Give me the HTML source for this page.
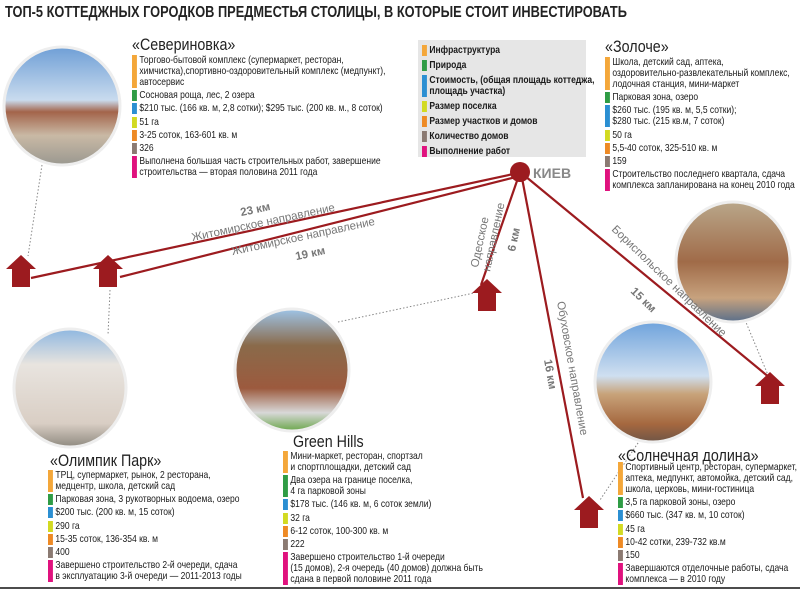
<!DOCTYPE html>
<html><head><meta charset="utf-8"><style>
body{margin:0;width:800px;height:591px;background:#fff;position:relative;overflow:hidden;font-family:"Liberation Sans",sans-serif;}
.t{position:absolute;font-size:16px;font-weight:bold;color:#222;left:5px;top:4px;white-space:nowrap;transform:scaleX(.8);transform-origin:left top;}
.h{position:absolute;font-size:17px;color:#222;white-space:nowrap;transform:scaleX(.84);transform-origin:left top;}
.b{position:absolute;font-size:10.4px;line-height:11px;color:#1a1a1a;white-space:nowrap;transform:scaleX(.82);transform-origin:left top;}
.b div{border-left:6px solid;padding-left:3px;margin-bottom:2.2px;}
.o{border-color:#f4a73a!important}.g{border-color:#2f9c45!important}.u{border-color:#2b8fd2!important}.y{border-color:#d2da22!important}.r{border-color:#ee8a25!important}.n{border-color:#8b7a72!important}.m{border-color:#e0127e!important}
.lg{position:absolute;left:418px;top:40px;width:168px;height:117px;background:#e6e6e6;}
.lb{font-weight:bold}
</style></head><body>
<svg width="800" height="591" style="position:absolute;left:0;top:0">
<defs>
<linearGradient id="p1" x1="0" y1="0" x2="0" y2="1"><stop offset="0" stop-color="#6f9fd6"/><stop offset=".45" stop-color="#c9dbee"/><stop offset=".55" stop-color="#a3644a"/><stop offset=".75" stop-color="#c9b9a5"/><stop offset="1" stop-color="#9a9890"/></linearGradient>
<linearGradient id="p2" x1="0" y1="0" x2="0" y2="1"><stop offset="0" stop-color="#8fb7e0"/><stop offset=".3" stop-color="#e8e4df"/><stop offset=".8" stop-color="#d9cec4"/><stop offset="1" stop-color="#8f8a80"/></linearGradient>
<linearGradient id="p3" x1="0" y1="0" x2="0" y2="1"><stop offset="0" stop-color="#9ec4e8"/><stop offset=".3" stop-color="#8a6a4a"/><stop offset=".65" stop-color="#9c5a3e"/><stop offset=".85" stop-color="#d8d8d8"/><stop offset="1" stop-color="#6aa64a"/></linearGradient>
<linearGradient id="p4" x1="0" y1="0" x2="0" y2="1"><stop offset="0" stop-color="#b9a78a"/><stop offset=".5" stop-color="#a06b48"/><stop offset=".8" stop-color="#c7a27e"/><stop offset="1" stop-color="#5a6f8a"/></linearGradient>
<linearGradient id="p5" x1="0" y1="0" x2="0" y2="1"><stop offset="0" stop-color="#6fa3dc"/><stop offset=".45" stop-color="#cfdff0"/><stop offset=".6" stop-color="#c8a37a"/><stop offset=".85" stop-color="#a5683f"/><stop offset="1" stop-color="#6f5646"/></linearGradient>
<g id="hs"><path d="M0,14 L15,0 L30,14 L24,14 L24,32 L6,32 L6,14Z" fill="#9c1b1f"/></g>
</defs>
<g stroke="#888" stroke-dasharray="1.5,2" stroke-width="1" fill="none">
<line x1="42" y1="165" x2="28" y2="256"/><line x1="110" y1="290" x2="108" y2="335"/>
<line x1="338" y1="322" x2="474" y2="293"/><line x1="745" y1="320" x2="768" y2="375"/>
<line x1="640" y1="440" x2="600" y2="500"/>
</g>
<ellipse cx="62" cy="106" rx="58" ry="59" fill="url(#p1)" stroke="#eee" stroke-width="3"/>
<ellipse cx="70" cy="388" rx="56" ry="59" fill="url(#p2)" stroke="#eee" stroke-width="3"/>
<ellipse cx="292" cy="370" rx="57" ry="61" fill="url(#p3)" stroke="#eee" stroke-width="3"/>
<ellipse cx="733" cy="262" rx="57" ry="60" fill="url(#p4)" stroke="#eee" stroke-width="3"/>
<ellipse cx="653" cy="382" rx="58" ry="60" fill="url(#p5)" stroke="#eee" stroke-width="3"/>
<g stroke="#9c1b1f" stroke-width="2.2" fill="none">
<line x1="518" y1="173" x2="31" y2="278"/><line x1="520" y1="176" x2="120" y2="277"/>
<line x1="518" y1="178" x2="481" y2="285"/><line x1="522" y1="178" x2="583" y2="498"/>
<line x1="525" y1="176" x2="770" y2="378"/>
</g>
<circle cx="520" cy="172" r="10" fill="#9c1b1f"/>
<use href="#hs" x="6" y="255"/><use href="#hs" x="93" y="255"/><use href="#hs" x="472" y="279"/>
<use href="#hs" x="755" y="372"/><use href="#hs" x="574" y="496"/>
<g font-family="Liberation Sans,sans-serif" fill="#777" font-size="11.5">
<text x="533" y="178" font-weight="bold" font-size="14" fill="#888">КИЕВ</text>
<text transform="translate(256,213) rotate(-12)" text-anchor="middle" font-weight="bold">23 км</text>
<text transform="translate(264,226) rotate(-12)" text-anchor="middle">Житомирское направление</text>
<text transform="translate(304,240) rotate(-12)" text-anchor="middle">Житомирское направление</text>
<text transform="translate(311,257) rotate(-12)" text-anchor="middle" font-weight="bold">19 км</text>
<text transform="translate(478,268) rotate(-78)">Одесское</text>
<text transform="translate(490,272) rotate(-78)">направление</text>
<text transform="translate(515,252) rotate(-78)" font-weight="bold">6 км</text>
<text transform="translate(557,302) rotate(80)">Обуховское направление</text>
<text transform="translate(544,360) rotate(80)" font-weight="bold">16 км</text>
<text transform="translate(611,230) rotate(44)">Бориспольское направление</text>
<text transform="translate(630,292) rotate(44)" font-weight="bold">15 км</text>
</g>
<line x1="0" y1="588" x2="800" y2="588" stroke="#111" stroke-width="1.5"/>
</svg>
<div class="t">ТОП-5 КОТТЕДЖНЫХ ГОРОДКОВ ПРЕДМЕСТЬЯ СТОЛИЦЫ, В КОТОРЫЕ СТОИТ ИНВЕСТИРОВАТЬ</div>

<div class="h" style="left:132px;top:35px">«Севериновка»</div>
<div class="b" style="left:132px;top:55px">
<div class="o">Торгово-бытовой комплекс (супермаркет, ресторан,<br>химчистка),спортивно-оздоровительный комплекс (медпункт),<br>автосервис</div>
<div class="g">Сосновая роща, лес, 2 озера</div>
<div class="u">$210 тыс. (166 кв. м, 2,8 сотки); $295 тыс. (200 кв. м., 8 соток)</div>
<div class="y">51 га</div><div class="r">3-25 соток, 163-601 кв. м</div><div class="n">326</div>
<div class="m">Выполнена большая часть строительных работ, завершение<br>строительства — вторая половина 2011 года</div>
</div>

<div class="lg"></div>
<div class="b lb" style="left:422px;top:45px;line-height:11px">
<div class="o" style="margin-bottom:4px">Инфраструктура</div><div class="g" style="margin-bottom:4px">Природа</div>
<div class="u" style="margin-bottom:4px">Стоимость, (общая площадь коттеджа,<br>площадь участка)</div>
<div class="y" style="margin-bottom:4px">Размер поселка</div><div class="r" style="margin-bottom:4px">Размер участков и домов</div>
<div class="n" style="margin-bottom:4px">Количество домов</div><div class="m">Выполнение работ</div>
</div>

<div class="h" style="left:605px;top:37px">«Золоче»</div>
<div class="b" style="left:605px;top:57px">
<div class="o">Школа, детский сад, аптека,<br>оздоровительно-развлекательный комплекс,<br>лодочная станция, мини-маркет</div>
<div class="g">Парковая зона, озеро</div>
<div class="u">$260 тыс. (195 кв. м, 5,5 сотки);<br>$280 тыс. (215 кв.м, 7 соток)</div>
<div class="y">50 га</div><div class="r">5,5-40 соток, 325-510 кв. м</div><div class="n">159</div>
<div class="m">Строительство последнего квартала, сдача<br>комплекса запланирована на конец 2010 года</div>
</div>

<div class="h" style="left:50px;top:451px">«Олимпик Парк»</div>
<div class="b" style="left:48px;top:470px">
<div class="o">ТРЦ, супермаркет, рынок, 2 ресторана,<br>медцентр, школа, детский сад</div>
<div class="g">Парковая зона, 3 рукотворных водоема, озеро</div>
<div class="u">$200 тыс. (200 кв. м, 15 соток)</div>
<div class="y">290 га</div><div class="r">15-35 соток, 136-354 кв. м</div><div class="n">400</div>
<div class="m">Завершено строительство 2-й очереди, сдача<br>в эксплуатацию 3-й очереди — 2011-2013 годы</div>
</div>

<div class="h" style="left:293px;top:432px">Green Hills</div>
<div class="b" style="left:283px;top:451px">
<div class="o">Мини-маркет, ресторан, спортзал<br>и спортплощадки, детский сад</div>
<div class="g">Два озера на границе поселка,<br>4 га парковой зоны</div>
<div class="u">$178 тыс. (146 кв. м, 6 соток земли)</div>
<div class="y">32 га</div><div class="r">6-12 соток, 100-300 кв. м</div><div class="n">222</div>
<div class="m">Завершено строительство 1-й очереди<br>(15 домов), 2-я очередь (40 домов) должна быть<br>сдана в первой половине 2011 года</div>
</div>

<div class="h" style="left:618px;top:446px">«Солнечная долина»</div>
<div class="b" style="left:618px;top:462px">
<div class="o">Спортивный центр, ресторан, супермаркет,<br>аптека, медпункт, автомойка, детский сад,<br>школа, церковь, мини-гостиница</div>
<div class="g">3,5 га парковой зоны, озеро</div>
<div class="u">$660 тыс. (347 кв. м, 10 соток)</div>
<div class="y">45 га</div><div class="r">10-42 сотки, 239-732 кв.м</div><div class="n">150</div>
<div class="m">Завершаются отделочные работы, сдача<br>комплекса — в 2010 году</div>
</div>
</body></html>
